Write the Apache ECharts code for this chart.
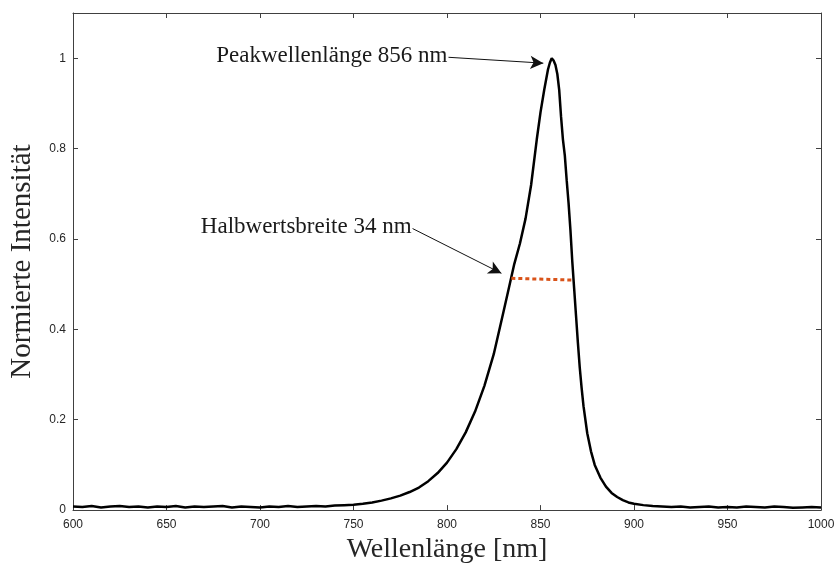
<!DOCTYPE html>
<html>
<head>
<meta charset="utf-8">
<script src="https://cdn.jsdelivr.net/npm/echarts@6/dist/echarts.min.js"></script>
<style>html,body{margin:0;padding:0;background:#fff}#c{width:838px;height:569px}</style>
</head>
<body>
<div id="c"></div>
<script>
const wavelength = [600,605,610,615,620,625,630,635,640,645,650,655,660,665,670,675,680,685,690,695,700,705,710,715,720,725,730,735,740,745,750,755,760,765,770,775,780,785,790,795,800,805,810,815,820,825,830,833,836,839,842,845,848,850,852,854,855,856,857,858,859,860,861,862,863,864,865,866,867,868,869,870,871,872,873,875,877,879,882,885,888,891,894,897,900,905,910,915,920,925,930,935,940,945,950,955,960,965,970,975,980,985,990,995,1000];
const intensity = [0.008,0.007,0.009,0.006,0.008,0.009,0.007,0.008,0.006,0.008,0.007,0.009,0.006,0.008,0.007,0.008,0.009,0.006,0.008,0.007,0.006,0.008,0.007,0.009,0.007,0.008,0.009,0.008,0.010,0.011,0.012,0.014,0.017,0.021,0.026,0.032,0.040,0.050,0.064,0.082,0.105,0.135,0.172,0.218,0.275,0.345,0.435,0.49,0.545,0.59,0.645,0.72,0.82,0.88,0.93,0.975,0.99,1.0,0.995,0.985,0.965,0.93,0.87,0.82,0.785,0.73,0.68,0.62,0.55,0.49,0.43,0.37,0.315,0.27,0.23,0.17,0.13,0.10,0.072,0.052,0.038,0.029,0.022,0.017,0.014,0.011,0.009,0.008,0.007,0.008,0.006,0.007,0.008,0.006,0.007,0.006,0.008,0.007,0.006,0.008,0.007,0.005,0.006,0.007,0.006];
const fwhmX = [834.4, 867.6];
const fwhmY = [0.513, 0.509];
const xTicks = ['600','650','700','750','800','850','900','950','1000'];
const yTicks = ['0','0.2','0.4','0.6','0.8','1'];
const peakText = 'Peakwellenlänge 856 nm';
const peakArrow = [[800.8, 1.002], [851.5, 0.989]];
const halfText = 'Halbwertsbreite 34 nm';
const halfArrow = [[781.6, 0.623], [829.1, 0.524]];

const axisCol = '#404040';
const serif = '"Liberation Serif", "Times New Roman", serif';
const sans = '"Liberation Sans", Arial, sans-serif';

const chart = echarts.init(document.getElementById('c'), null, {renderer: 'canvas'});
const xCommon = {type: 'value', min: 600, max: 1000, interval: 50,
  axisLine: {show: true, onZero: false, lineStyle: {color: axisCol, width: 1}},
  axisTick: {show: true, inside: true, length: 5, lineStyle: {color: axisCol}},
  splitLine: {show: false}};
const yCommon = {type: 'value', min: 0, max: 1.1, interval: 0.2,
  axisLine: {show: true, onZero: false, lineStyle: {color: axisCol, width: 1}},
  axisTick: {show: true, inside: true, length: 5, lineStyle: {color: axisCol}},
  splitLine: {show: false}};

chart.setOption({
  animation: false,
  backgroundColor: '#fff',
  grid: {left: 71, right: 17, top: 13, bottom: 57, containLabel: false},
  xAxis: [
    Object.assign({}, xCommon, {position: 'bottom',
      axisLabel: {show: true, margin: 9, color: '#262626', fontFamily: sans, fontSize: 12,
        formatter: v => xTicks[Math.round((v - 600) / 50)] ?? ''},
      name: 'Wellenlänge [nm]', nameLocation: 'middle', nameGap: 22,
      nameTextStyle: {fontFamily: serif, fontSize: 28, color: '#262626'}}),
    Object.assign({}, xCommon, {position: 'top', axisLabel: {show: false}})
  ],
  yAxis: [
    Object.assign({}, yCommon, {position: 'left',
      axisLabel: {show: true, margin: 7, color: '#262626', fontFamily: sans, fontSize: 12,
        showMaxLabel: false,
        formatter: v => { const i = Math.round(v / 0.2); return (Math.abs(v - i * 0.2) < 1e-6 && i < yTicks.length) ? yTicks[i] : ''; }},
      name: 'Normierte Intensität', nameLocation: 'middle', nameGap: 36, nameRotate: 90,
      nameTextStyle: {fontFamily: serif, fontSize: 29, color: '#262626'}}),
    Object.assign({}, yCommon, {position: 'right', axisLabel: {show: false}})
  ],
  series: [
    {type: 'line', xAxisIndex: 0, yAxisIndex: 0, symbol: 'none',
      data: wavelength.map((w, i) => [w, intensity[i]]),
      lineStyle: {color: '#000', width: 2.5}, z: 3,
      markLine: {silent: true, symbol: ['none', 'arrow'], symbolSize: [10, 13],
        lineStyle: {color: '#111', width: 1, type: 'solid'}, label: {show: false},
        data: [
          [{coord: peakArrow[0]}, {coord: peakArrow[1]}],
          [{coord: halfArrow[0]}, {coord: halfArrow[1]}]
        ]},
      markPoint: {silent: true, symbol: 'circle', symbolSize: 0,
        label: {show: true, position: 'left', distance: 1, fontFamily: serif, fontSize: 23, color: '#1a1a1a'},
        data: [
          {coord: [peakArrow[0][0], peakArrow[0][1] + 0.004], value: peakText, label: {formatter: peakText}},
          {coord: [halfArrow[0][0], halfArrow[0][1] + 0.004], value: halfText, label: {formatter: halfText}}
        ]}
    },
    {type: 'line', xAxisIndex: 0, yAxisIndex: 0, symbol: 'none',
      data: fwhmX.map((x, i) => [x, fwhmY[i]]),
      lineStyle: {color: '#D95319', width: 3, type: [4, 3]}, z: 4}
  ]
});
</script>
</body>
</html>
